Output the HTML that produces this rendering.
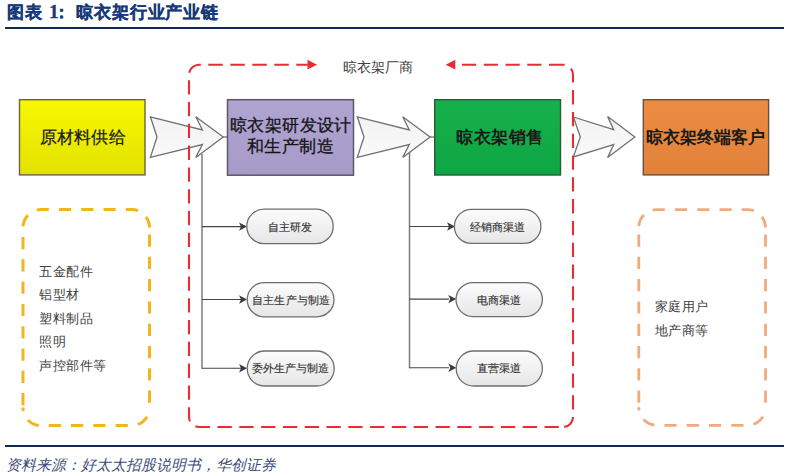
<!DOCTYPE html>
<html><head><meta charset="utf-8">
<style>
html,body{margin:0;padding:0;background:#fff;}
body{width:789px;height:476px;position:relative;overflow:hidden;font-family:"Liberation Sans",sans-serif;}
.t{position:absolute;white-space:nowrap;line-height:1;}
svg{position:absolute;left:0;top:0;}
</style></head><body>
<svg width="789" height="476" viewBox="0 0 789 476">
<defs>
<linearGradient id="gy" x1="0" y1="0" x2="0" y2="1"><stop offset="0" stop-color="#f8f800"/><stop offset="1" stop-color="#e2e200"/></linearGradient>
<linearGradient id="gp" x1="0" y1="0" x2="0" y2="1"><stop offset="0" stop-color="#afa4d2"/><stop offset="1" stop-color="#a69bc8"/></linearGradient>
<linearGradient id="gg" x1="0" y1="0" x2="0" y2="1"><stop offset="0" stop-color="#16b04c"/><stop offset="1" stop-color="#0ea644"/></linearGradient>
<linearGradient id="go" x1="0" y1="0" x2="0" y2="1"><stop offset="0" stop-color="#ec8c42"/><stop offset="1" stop-color="#e2823a"/></linearGradient>
<linearGradient id="ga" x1="0" y1="0" x2="0" y2="1"><stop offset="0" stop-color="#f2f2f2"/><stop offset="1" stop-color="#fafafa"/></linearGradient>
<linearGradient id="gl" x1="0" y1="0" x2="0" y2="1"><stop offset="0" stop-color="#fcfcfc"/><stop offset="1" stop-color="#e6e6e6"/></linearGradient>
</defs>
<!-- header/footer rules -->
<rect x="5" y="27" width="779" height="2" fill="#0f2a55"/>
<rect x="5" y="445" width="779" height="2" fill="#0f2a55"/>

<!-- dashed side boxes -->
<g fill="none" stroke="#f2b51c" stroke-width="3">
<path d="M23,227.6 A18,18 0 0 1 41,209.6 H131.5 A18,18 0 0 1 149.5,227.6" stroke-dasharray="12.2 10.1" stroke-dashoffset="20.9"/>
<path d="M23,227.6 V407.6" stroke-dasharray="12.2 10.1" stroke-dashoffset="12.9"/>
<path d="M149.5,227.6 V407.6" stroke-dasharray="12.2 10.1" stroke-dashoffset="15.4"/>
<path d="M23,407.6 A18,18 0 0 0 41,425.6 H131.5 A18,18 0 0 0 149.5,407.6" stroke-dasharray="12.2 10.1" stroke-dashoffset="8.8"/>
</g>
<g fill="none" stroke="#f2aa7c" stroke-width="2.8">
<path d="M638.8,227.6 A18,18 0 0 1 656.8,209.6 H747.5 A18,18 0 0 1 765.5,227.6" stroke-dasharray="12.2 10.1" stroke-dashoffset="20.7"/>
<path d="M638.8,227.6 V407.3" stroke-dasharray="12.2 10.1" stroke-dashoffset="15.4"/>
<path d="M765.5,227.6 V407.3" stroke-dasharray="12.2 10.1" stroke-dashoffset="15.4"/>
<path d="M638.8,407.3 A18,18 0 0 0 656.8,425.3 H747.5 A18,18 0 0 0 765.5,407.3" stroke-dasharray="12.2 10.1" stroke-dashoffset="8.9"/>
</g>

<!-- tree lines -->
<g stroke="#7c7c7c" stroke-width="1.5" fill="none">
<path d="M202,154 V368.8"/>
<path d="M409.5,152 V368.3"/>
</g>
<g stroke="#454545" stroke-width="1.1" fill="none">
<path d="M202,226.6 H241 M202,299.5 H241 M202,368.3 H241"/>
<path d="M409.5,226.5 H449 M409.5,299.1 H449 M409.5,367.8 H449"/>
<path d="M223,137 H227.5 M430,137 H434.5"/>
</g>
<g fill="#3a3a3a">
<polygon points="247,226.6 239,222.4 241,226.6 239,230.8"/>
<polygon points="247,299.5 239,295.3 241,299.5 239,303.7"/>
<polygon points="247,368.3 239,364.1 241,368.3 239,372.5"/>
<polygon points="455,226.5 447,222.3 449,226.5 447,230.7"/>
<polygon points="456.2,299.1 448.2,294.9 450.2,299.1 448.2,303.3"/>
<polygon points="456.3,367.8 448.3,363.6 450.3,367.8 448.3,372"/>
</g>

<!-- main boxes -->
<rect x="19.5" y="99.7" width="125.5" height="75.2" fill="url(#gy)" stroke="#6a6440" stroke-width="1.4"/>
<rect x="227.5" y="99.7" width="126" height="75.5" fill="url(#gp)" stroke="#5c5868" stroke-width="1.5"/>
<rect x="434.7" y="99.7" width="125.8" height="75.3" fill="url(#gg)" stroke="#2c5a38" stroke-width="1.4"/>
<rect x="643.3" y="99.7" width="125.3" height="75.2" fill="url(#go)" stroke="#6a5040" stroke-width="1.4"/>

<!-- block arrows -->
<g fill="url(#ga)" stroke="#727272" stroke-width="1.3" stroke-linejoin="miter">
<path d="M150.4,116.8 L202.4,130 L195.8,116.7 L223.2,137 L195.8,157.4 L202.4,144.5 L150.4,157.4 L157,137 Z"/>
<path d="M357.3,116.8 L409.3,130 L402.7,116.7 L430.1,137 L402.7,157.4 L409.3,144.5 L357.3,157.4 L364,137 Z"/>
<path d="M573.4,117 L613.7,129.6 L607.6,116.6 L634.9,137 L607.6,157.6 L613.7,144.6 L573.4,156.9 L580.3,137 Z"/>
</g>

<!-- red dashed enclosure -->
<g fill="none" stroke="#e82c34" stroke-width="2.1">
<path d="M307.8,64.7 H199" stroke-dasharray="14.5 7.5" stroke-dashoffset="3"/>
<path d="M455.5,64.7 H563" stroke-dasharray="14.2 7.55" stroke-dashoffset="15.25"/>
<path d="M199,64.7 A10,10 0 0 0 189,74.7 V417 A10,10 0 0 0 199,427" stroke-dasharray="14.3 7.5" stroke-dashoffset="0.7"/>
<path d="M199,427 H563" stroke-dasharray="14.3 7.5" stroke-dashoffset="3.3"/>
<path d="M563,64.7 A10,10 0 0 1 573,74.7 V417 A10,10 0 0 1 563,427" stroke-dasharray="14.3 7.5" stroke-dashoffset="12.6"/>
</g>
<polygon points="317,64.7 307.5,59.8 307.5,69.6" fill="#e82c34"/>
<polygon points="445.7,64.7 455.3,59.8 455.3,69.6" fill="#e82c34"/>

<!-- pills -->
<g fill="url(#gl)" stroke="#6e6e6e" stroke-width="1.3">
<rect x="246.8" y="209.1" width="86.4" height="34.5" rx="17.2"/>
<rect x="247.2" y="282.6" width="86.8" height="34.2" rx="17.1"/>
<rect x="247.2" y="351" width="87" height="35" rx="17.5"/>
<rect x="454.4" y="209.4" width="86.5" height="34" rx="17"/>
<rect x="456" y="282.6" width="86.4" height="34" rx="17"/>
<rect x="456.2" y="351" width="86.2" height="35" rx="17.5"/>
</g>
</svg>

<div class="t" style="left:7px;top:4px;font-size:16.5px;font-weight:bold;color:#183a7a;-webkit-text-stroke:0.35px #183a7a;letter-spacing:0.6px;">图表</div>
<div class="t" style="left:49px;top:2px;font-size:19.5px;font-weight:bold;color:#183a7a;-webkit-text-stroke:0.35px #183a7a;font-family:'Liberation Serif',serif;">1</div>
<div class="t" style="left:53px;top:4px;font-size:16.5px;font-weight:bold;color:#183a7a;-webkit-text-stroke:0.35px #183a7a;">：</div>
<div class="t" style="left:76px;top:4px;font-size:16.5px;font-weight:bold;color:#183a7a;-webkit-text-stroke:0.35px #183a7a;letter-spacing:0.9px;">晾衣架行业产业链</div>
<div class="t" style="left:343px;top:61px;font-size:13.5px;color:#404040;">晾衣架厂商</div>

<div class="t" style="left:39.5px;top:129px;font-size:17px;letter-spacing:0.3px;color:#1a1a1a;-webkit-text-stroke:0.25px #1a1a1a;">原材料供给</div>
<div class="t" style="left:230px;top:114.5px;font-size:17px;color:#141414;-webkit-text-stroke:0.3px #141414;line-height:21.5px;text-align:center;width:121px;letter-spacing:0.4px;">晾衣架研发设计<br>和生产制造</div>
<div class="t" style="left:456px;top:128.5px;letter-spacing:0.5px;font-size:17px;font-weight:bold;color:#1a1a1a;font-family:'Liberation Serif',serif;">晾衣架销售</div>
<div class="t" style="left:645.5px;top:128.5px;letter-spacing:0px;font-size:17px;font-weight:bold;color:#1a1a1a;font-family:'Liberation Serif',serif;">晾衣架终端客户</div>

<div class="t" style="left:268px;top:222px;font-size:11px;font-weight:normal;color:#333;-webkit-text-stroke:0.15px #333;font-family:'Liberation Serif',serif;">自主研发</div>
<div class="t" style="left:252px;top:294.5px;letter-spacing:0.2px;font-size:11.4px;font-weight:normal;color:#333;-webkit-text-stroke:0.15px #333;font-family:'Liberation Serif',serif;">自主生产与制造</div>
<div class="t" style="left:251.5px;top:363px;letter-spacing:0.15px;font-size:11.4px;font-weight:normal;color:#333;-webkit-text-stroke:0.15px #333;font-family:'Liberation Serif',serif;">委外生产与制造</div>
<div class="t" style="left:470px;top:221.5px;font-size:11px;font-weight:normal;color:#333;-webkit-text-stroke:0.15px #333;font-family:'Liberation Serif',serif;">经销商渠道</div>
<div class="t" style="left:477px;top:294.5px;font-size:11px;font-weight:normal;color:#333;-webkit-text-stroke:0.15px #333;font-family:'Liberation Serif',serif;">电商渠道</div>
<div class="t" style="left:477px;top:363px;font-size:11px;font-weight:normal;color:#333;-webkit-text-stroke:0.15px #333;font-family:'Liberation Serif',serif;">直营渠道</div>

<div class="t" style="left:39px;top:259.5px;font-size:13px;color:#404040;line-height:23.6px;letter-spacing:0.5px;">五金配件<br>铝型材<br>塑料制品<br>照明<br>声控部件等</div>
<div class="t" style="left:655px;top:295px;font-size:13px;color:#404040;line-height:24.3px;letter-spacing:0.3px;">家庭用户<br>地产商等</div>

<div class="t" style="left:6px;top:457.5px;font-size:14.8px;font-style:italic;color:#3a4a78;font-family:'Liberation Serif',serif;">资料来源：好太太招股说明书，华创证券</div>
</body></html>
